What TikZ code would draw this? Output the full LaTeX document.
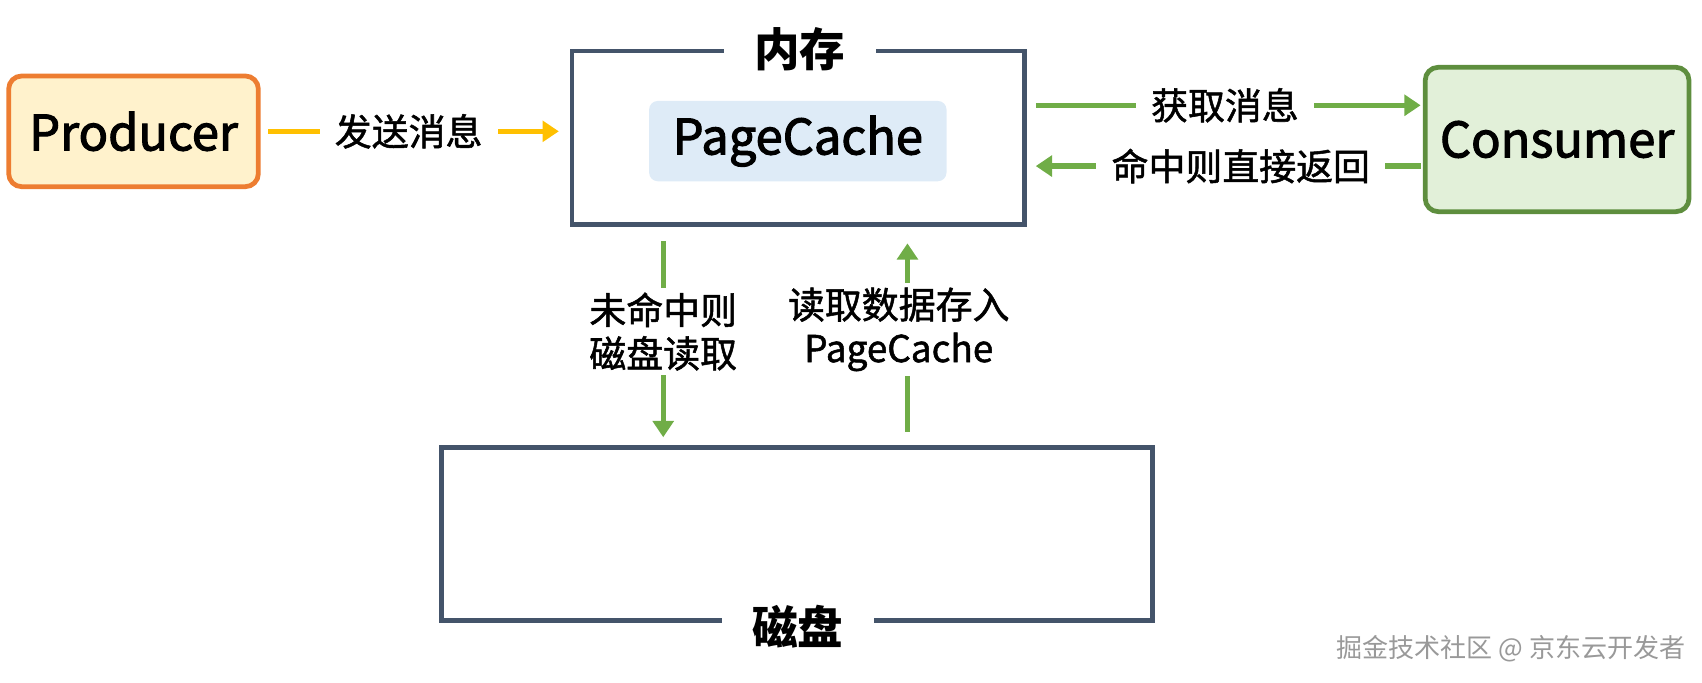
\documentclass[tikz,border=0pt]{standalone}
\usepackage{fontspec}
\setmainfont{Noto Sans CJK SC}
\newfontfamily\medfont[FakeBold=1.4]{Noto Sans CJK SC}
\newfontfamily\semifont[FakeBold=2.2]{Noto Sans CJK SC}
\usetikzlibrary{arrows.meta}
\definecolor{frame}{HTML}{44546A}
\definecolor{pborder}{HTML}{ED7D31}
\definecolor{pfill}{HTML}{FFF2CC}
\definecolor{cborder}{HTML}{5E8E3E}
\definecolor{cfill}{HTML}{E2F0D9}
\definecolor{gline}{HTML}{70AD47}
\definecolor{yline}{HTML}{FFC000}
\definecolor{cachefill}{HTML}{DEEBF7}

\begin{document}
\begin{tikzpicture}[x=0.5pt,y=-0.5pt,
  actor/.style={rounded corners=6pt,line width=2.2pt,minimum width=115pt,font=\semifont\fontsize{22.5}{27}\selectfont},
  store/.style={draw=frame,line width=2.2pt},
  title/.style={fill=white,inner xsep=14pt,inner ysep=2pt,font=\bfseries\fontsize{21}{25}\selectfont},
  lbl/.style={fill=white,text=black,inner xsep=7pt,inner ysep=2pt,align=center,font=\medfont\fontsize{17}{20}\selectfont},
  link/.style={line width=2.5pt,-{Triangle[length=7.5pt,width=9.5pt]}}]
\useasboundingbox (0,0) rectangle (1568,629.2);
\node[actor,draw=pborder,fill=pfill,minimum height=51pt] (prod) at (123,121) {Producer};
\node[actor,draw=cborder,fill=cfill,minimum width=121.5pt,minimum height=66.5pt] (cons) at (1434.5,128.5) {Consumer};
\node[store,minimum width=208.5pt,minimum height=80pt] (mem) at (735.5,127) {};
\node[fill=cachefill,rounded corners=4pt,minimum width=137pt,minimum height=37pt,font=\semifont\fontsize{22.5}{27}\selectfont] (cache) at (735,130) {PageCache};
\node[store,minimum width=327.5pt,minimum height=80pt] (disk) at (734.5,492) {};
\node[title] (memt) at (737,45) {内存};
\node[title] (diskt) at (735,577) {磁盘};
\node[text=gray!80,font=\fontsize{12}{14}\selectfont,anchor=east] (mark) at (1560,598) {掘金技术社区 @ 京东云开发者};
% memory <-> producer / consumer
\draw[link,yline,shorten <=3.5pt,shorten >=5pt] (prod.east) -- (prod.east -| mem.west) node[lbl,midway,xshift=-3pt] {发送消息};
\draw[link,gline,shorten <=4pt,shorten >=1pt] ([yshift=15pt]mem.east) -- ([yshift=15pt]mem.east -| cons.west) node[lbl,midway] {获取消息};
\draw[link,gline,shorten <=1pt,shorten >=4pt] ([yshift=-13pt]mem.east -| cons.west) -- ([yshift=-13pt]mem.east) node[lbl,pos=0.46] {命中则直接返回};
% memory <-> disk
\draw[link,gline,shorten <=6.5pt,shorten >=3.5pt] ([xshift=-62.25pt]mem.south) -- ([xshift=-62.25pt]mem.south |- disk.north) node[lbl,pos=0.48] {未命中则\\磁盘读取};
\draw[link,gline,shorten <=6pt,shorten >=7.5pt] ([xshift=50.25pt]mem.south |- disk.north) -- ([xshift=50.25pt]mem.south) node[lbl,pos=0.53,xshift=-4pt] {读取数据存入\\PageCache};
\end{tikzpicture}
\end{document}
